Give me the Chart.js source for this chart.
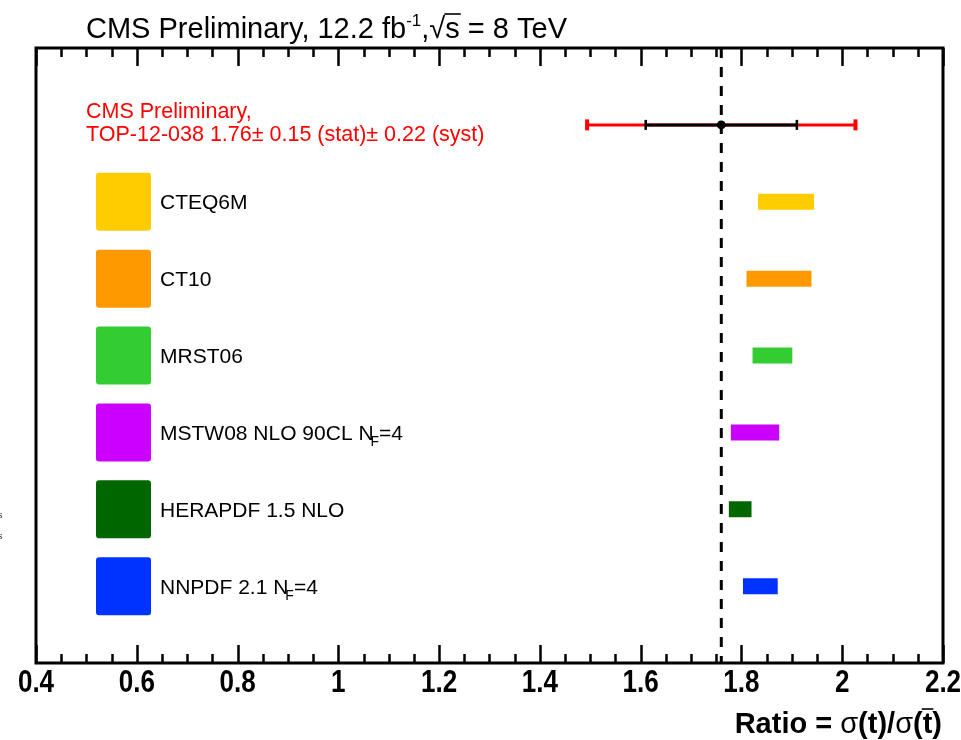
<!DOCTYPE html>
<html><head><meta charset="utf-8">
<script src="https://cdn.jsdelivr.net/npm/chart.js@4"></script>
<style>html,body{margin:0;padding:0;background:#fff;}#wrap{width:961px;height:740px;}</style>
</head><body><div id="wrap"><canvas id="c" width="961" height="740"></canvas></div>
<script>
// ---- data ----
const pdfNames = ['CTEQ6M', 'CT10', 'MRST06', 'MSTW08 NLO 90CL N_F=4', 'HERAPDF 1.5 NLO', 'NNPDF 2.1 N_F=4'];
const pdfLow   = [1.833, 1.810, 1.822, 1.779, 1.775, 1.803];
const pdfHigh  = [1.944, 1.939, 1.901, 1.875, 1.820, 1.872];
const pdfColors = ['#ffcc00', '#ff9900', '#33cc33', '#cc00ff', '#006600', '#0033ff'];
const pdfRows  = [2, 3, 4, 5, 6, 7];
const measValue = 1.76;
const measStat = 0.15;
const measSyst = 0.22;
const measRow = 1;
const xTickValues = [0.4, 0.6, 0.8, 1.0, 1.2, 1.4, 1.6, 1.8, 2.0, 2.2];
const xTickLabels = ['0.4', '0.6', '0.8', '1', '1.2', '1.4', '1.6', '1.8', '2', '2.2'];
const measLabel1 = 'CMS Preliminary,';
const measLabel2 = 'TOP-12-038 1.76\u00b1 0.15 (stat)\u00b1 0.22 (syst)';

const measTotal = Math.sqrt(measStat * measStat + measSyst * measSyst);

const datasets = [];
// central point (on top)
datasets.push({
  data: [{x: measValue, y: measRow}], showLine: false,
  pointRadius: 4.5, pointBackgroundColor: '#000', pointBorderColor: '#000', pointBorderWidth: 0
});
// stat error
datasets.push({
  data: [{x: measValue - measStat, y: measRow}, {x: measValue + measStat, y: measRow}],
  borderColor: '#000', borderWidth: 3, showLine: true,
  pointStyle: 'line', pointRotation: 90, pointRadius: 5, pointBorderWidth: 2.5,
  pointBorderColor: '#000', pointBackgroundColor: '#000'
});
// total error
datasets.push({
  data: [{x: measValue - measTotal, y: measRow}, {x: measValue + measTotal, y: measRow}],
  borderColor: '#ff0000', borderWidth: 3, showLine: true,
  pointStyle: 'line', pointRotation: 90, pointRadius: 5.5, pointBorderWidth: 4,
  pointBorderColor: '#ff0000', pointBackgroundColor: '#ff0000'
});
// PDF bars
pdfNames.forEach((n, i) => {
  datasets.push({
    data: [{x: pdfLow[i], y: pdfRows[i]}, {x: pdfHigh[i], y: pdfRows[i]}],
    borderColor: pdfColors[i], borderWidth: 16, borderCapStyle: 'butt', showLine: true,
    pointRadius: 0
  });
});
// dashed central line (drawn first / behind)
datasets.push({
  data: [{x: measValue, y: 0}, {x: measValue, y: 8}],
  borderColor: '#000', borderWidth: 3, borderDash: [10, 9], showLine: true, pointRadius: 0
});

function drawRich(ctx, x, y, segs, color) {
  ctx.fillStyle = color; ctx.strokeStyle = color;
  ctx.textBaseline = 'alphabetic'; ctx.textAlign = 'left';
  for (const s of segs) {
    ctx.font = s.font;
    x += (s.dx || 0);
    const w = ctx.measureText(s.text).width;
    ctx.fillText(s.text, x, y + (s.dy || 0));
    if (s.overline) {
      ctx.lineWidth = 1.6;
      ctx.beginPath(); ctx.moveTo(x - 1, y - s.overline); ctx.lineTo(x + w + 1, y - s.overline); ctx.stroke();
    }
    x += w;
  }
}
function labelSegs(name) {
  const segs = [];
  const re = /_(.)/g;
  let last = 0, m;
  while ((m = re.exec(name)) !== null) {
    segs.push({text: name.slice(last, m.index), font: '21px "Liberation Sans", Arial, sans-serif'});
    segs.push({text: m[1], font: '14px "Liberation Sans", Arial, sans-serif', dy: 6, dx: -3});
    last = m.index + 2;
  }
  segs.push({text: name.slice(last), font: '21px "Liberation Sans", Arial, sans-serif'});
  return segs;
}

const decor = {
  id: 'decor',
  afterDatasetsDraw(chart) {
    const ctx = chart.ctx, a = chart.chartArea, xs = chart.scales.x, ys = chart.scales.y;
    ctx.save();
    // frame
    ctx.strokeStyle = '#000'; ctx.lineWidth = 3;
    ctx.strokeRect(a.left, a.top, a.right - a.left, a.bottom - a.top);
    // inward ticks
    ctx.lineWidth = 2.5;
    const n = Math.round((xs.max - xs.min) / 0.05);
    for (let i = 0; i <= n; i++) {
      const v = xs.min + i * 0.05;
      const px = Math.round(xs.getPixelForValue(v)) + 0.5;
      const len = (i % 4 === 0) ? 18 : 9;
      ctx.beginPath();
      ctx.moveTo(px, a.top); ctx.lineTo(px, a.top + len);
      ctx.moveTo(px, a.bottom); ctx.lineTo(px, a.bottom - len);
      ctx.stroke();
    }
    // tick labels (condensed bold), placed through the x scale
    ctx.fillStyle = '#000';
    ctx.font = 'bold 31px "Liberation Sans", Arial, sans-serif';
    ctx.textAlign = 'center'; ctx.textBaseline = 'alphabetic';
    xs.ticks.forEach((t, i) => {
      const px = xs.getPixelForValue(t.value);
      ctx.save();
      ctx.translate(px, a.bottom + 29);
      ctx.scale(0.84, 1);
      ctx.fillText(xTickLabels[i], 0, 0);
      ctx.restore();
    });
    ctx.textAlign = 'left';
    // legend boxes and labels
    pdfNames.forEach((name, i) => {
      const py = ys.getPixelForValue(pdfRows[i]);
      ctx.fillStyle = pdfColors[i];
      ctx.beginPath();
      if (ctx.roundRect) ctx.roundRect(96, py - 29, 55, 58, 3); else ctx.rect(96, py - 29, 55, 58);
      ctx.fill();
      drawRich(ctx, 160, py + 7.5, labelSegs(name), '#000');
    });
    // measurement label
    const my = ys.getPixelForValue(measRow);
    ctx.font = '21.5px "Liberation Sans", Arial, sans-serif';
    ctx.fillStyle = '#ff0000';
    ctx.fillText(measLabel1, 86, my - 7);
    ctx.fillText(measLabel2, 86, my + 16.5);
    // title
    const F = '29px "Liberation Sans", Arial, sans-serif';
    drawRich(ctx, 86, 38, [
      {text: 'CMS Preliminary, 12.2 fb', font: F},
      {text: '-1', font: '17px "Liberation Sans", Arial, sans-serif', dy: -12},
      {text: ',', font: F},
      {text: '\u221a', font: F},
      {text: 's', font: F, overline: 24},
      {text: ' = 8 TeV', font: F}
    ], '#000');
    // x axis title
    const B = 'bold 29px "Liberation Sans", Arial, sans-serif';
    const S = '29px "Liberation Sans", Arial, sans-serif';
    const segs = [
      {text: 'Ratio = ', font: B}, {text: '\u03c3', font: S}, {text: '(t)/', font: B},
      {text: '\u03c3', font: S}, {text: '(', font: B}, {text: 't', font: B, overline: 24}, {text: ')', font: B}
    ];
    let tw = 0;
    segs.forEach(s => { ctx.font = s.font; tw += ctx.measureText(s.text).width; });
    drawRich(ctx, 942 - tw, 733, segs, '#000');
    // clipped fragments at the left edge
    ctx.font = '9px "Liberation Sans", Arial, sans-serif';
    ctx.fillStyle = '#333';
    ctx.fillText('s', -2, 518);
    ctx.fillText('s', -2, 539);
    ctx.restore();
  }
};

new Chart(document.getElementById('c'), {
  type: 'line',
  data: {datasets},
  options: {
    responsive: false, animation: false,
    layout: {padding: {left: 36, right: 18, top: 48, bottom: 0}},
    plugins: {legend: {display: false}, tooltip: {enabled: false}},
    scales: {
      x: {
        type: 'linear', min: 0.4, max: 2.2,
        afterBuildTicks: s => { s.ticks = xTickValues.map(v => ({value: v})); },
        afterFit: s => { s.height = 77; s.paddingLeft = 0; s.paddingRight = 0; },
        grid: {display: false, drawTicks: false},
        border: {display: false},
        ticks: {display: false, callback: (v, i) => xTickLabels[i]}
      },
      y: {type: 'linear', min: 0, max: 8, reverse: true, display: false}
    }
  },
  plugins: [decor]
});
</script></body></html>
